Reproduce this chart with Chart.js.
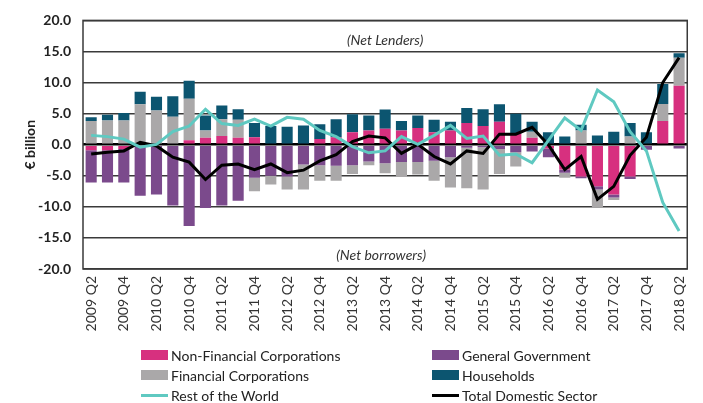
<!DOCTYPE html>
<html>
<head>
<meta charset="utf-8">
<script src="https://cdn.jsdelivr.net/npm/chart.js@4.4.0/dist/chart.umd.min.js"></script>
<style>
  html, body { margin: 0; padding: 0; background: #fff; }
  #wrap { position: relative; width: 703px; height: 403px; font-family: Lato, sans-serif; }
  #chart { position: absolute; left: 0; top: 0; }
  #legend { position: absolute; left: 0; top: 0; width: 703px; height: 403px; pointer-events: none; }
  .item { position: absolute; display: flex; align-items: center; font-size: 14px; color: #222; white-space: nowrap; height: 18px; }
  .swatch { width: 27px; height: 10px; margin-right: 3px; }
  .swatch.line { height: 3px; }
</style>
</head>
<body>
<div id="wrap">
  <canvas id="chart" width="703" height="403"></canvas>
  <div id="legend"></div>
</div>
<script>
const QUARTERS = ['2009 Q2','2009 Q3','2009 Q4','2010 Q1','2010 Q2','2010 Q3','2010 Q4','2011 Q1','2011 Q2','2011 Q3',
  '2011 Q4','2012 Q1','2012 Q2','2012 Q3','2012 Q4','2013 Q1','2013 Q2','2013 Q3','2013 Q4','2014 Q1',
  '2014 Q2','2014 Q3','2014 Q4','2015 Q1','2015 Q2','2015 Q3','2015 Q4','2016 Q1','2016 Q2','2016 Q3',
  '2016 Q4','2017 Q1','2017 Q2','2017 Q3','2017 Q4','2018 Q1','2018 Q2'];

const NFC = [-0.9,-0.9,-0.7,0,0,0,0.7,1.1,1.4,1.1, 1.2,0.2,0,0,0.9,1.2,2.0,2.3,2.55,2.3, 2.7,2.0,2.3,3.5,3.0,3.7,1.8,1.1,-0.6,-4.0, -5.1,-6.7,-8.0,-5.1,0,3.8,9.5];
const GG  = [-5.2,-5.2,-5.4,-8.2,-8.0,-9.8,-13.1,-10.2,-9.8,-9.0, -5.3,-5.0,-5.1,-3.2,-3.3,-3.4,-3.3,-2.7,-3.0,-2.8, -2.8,-2.6,-2.0,-0.5,-0.4,-0.7,-1.2,-1.1,-1.4,-0.5, -0.3,-0.5,-0.5,-0.4,-0.8,0,-0.6];
const FC  = [3.8,3.9,3.9,6.5,5.5,4.5,6.7,1.2,2.7,2.9, -2.2,-1.4,-2.1,-4.0,-2.5,-2.4,-1.4,-0.6,-1.6,-2.4, -2.0,-3.2,-4.9,-6.5,-6.8,-4.0,-2.3,1.0,0,-0.8, 2.3,-2.9,-0.4,1.3,0,2.75,4.5];
const HH  = [0.6,0.9,1.2,2.0,2.2,3.3,2.9,2.4,2.2,1.7, 2.3,2.8,2.9,3.1,2.4,2.9,2.9,2.4,3.1,1.5, 2.0,2.0,1.4,2.4,2.7,2.8,3.2,1.6,2.0,1.3, 0.9,1.5,2.1,2.2,2.0,3.2,0.7];
const ROW = [1.5,1.3,0.9,-0.4,0.05,2.1,3.0,5.7,3.4,3.1, 4.1,3.0,4.4,4.1,2.3,1.3,-0.3,-1.3,-1.0,1.3, 0.05,1.5,3.1,1.0,1.4,-1.7,-1.5,-2.9,0.7,4.3, 2.3,8.8,6.9,2.1,-1.0,-9.3,-13.9];
const TDS = [-1.5,-1.2,-1.0,0.4,-0.2,-2.0,-2.8,-5.6,-3.3,-3.1, -4.0,-3.1,-4.5,-4.1,-2.6,-1.6,0.5,1.4,1.1,-1.4, 0.05,-1.9,-3.1,-1.0,-1.4,1.7,1.7,2.8,-0.05,-4.0, -1.9,-8.8,-6.7,-1.7,1.2,10.0,14.0];

const Y_TICKS = [-20, -15, -10, -5, 0, 5, 10, 15, 20];
const NOTE_TOP = '(Net Lenders)';
const NOTE_BOTTOM = '(Net borrowers)';

const FONT = 'Lato, sans-serif';

//frame round the plot and the two notes
const frame_plugin = {
    id: 'frame',
    afterDatasetsDraw(chart){
        const ctx = chart.ctx;
        const area = chart.chartArea;
        const y = chart.scales.y;
        ctx.save();
        ctx.strokeStyle = '#3a3a3a';
        ctx.lineWidth = 1.5;
        ctx.strokeRect(area.left, area.top, area.right - area.left, area.bottom - area.top);
        ctx.fillStyle = '#333';
        ctx.font = 'italic 14px ' + FONT;
        ctx.textAlign = 'center';
        ctx.textBaseline = 'middle';
        const cx = (area.left + area.right) / 2;
        ctx.fillText(NOTE_TOP, cx, y.getPixelForValue(16.7));
        ctx.fillText(NOTE_BOTTOM, cx - 4, y.getPixelForValue(-17.9));
        ctx.restore();
    }
};

function bar_set(label, data, color){
    return { type: 'bar', label: label, data: data, backgroundColor: color, stack: 'sectors',
             barPercentage: 0.68, categoryPercentage: 1.0, order: 1 };
}

function line_set(label, data, color, stack){
    return { type: 'line', label: label, data: data, borderColor: color, backgroundColor: color,
             borderWidth: 3, pointRadius: 0, tension: 0, stack: stack, order: 0 };
}

const datasets = [
    bar_set('Non-Financial Corporations', NFC, '#d7307f'),
    bar_set('General Government', GG, '#7b4a8c'),
    bar_set('Financial Corporations', FC, '#aaa8a9'),
    bar_set('Households', HH, '#0c5570'),
    line_set('Rest of the World', ROW, '#5fc9c1', 'row'),
    line_set('Total Domestic Sector', TDS, '#000000', 'tds')
];

const chart = new Chart(document.getElementById('chart'), {
    data: { labels: QUARTERS, datasets: datasets },
    options: {
        responsive: false,
        animation: false,
        layout: { padding: { top: 17, right: 8, left: 0, bottom: 0 } },
        plugins: { legend: { display: false }, tooltip: { enabled: false } },
        scales: {
            x: {
                stacked: true,
                grid: { display: false, drawTicks: false },
                border: { display: false },
                ticks: {
                    autoSkip: false, minRotation: 90, maxRotation: 90, padding: 7,
                    color: '#333', font: { family: FONT, size: 14 },
                    callback: function(value, index){ return index % 2 === 0 ? this.getLabelForValue(value) : ''; }
                },
                afterFit(scale){ scale.height = 134; }
            },
            y: {
                stacked: true,
                min: -20, max: 20,
                afterBuildTicks(scale){ scale.ticks = Y_TICKS.map(v => ({ value: v })); },
                grid: {
                    drawTicks: false,
                    color: (c) => c.tick && c.tick.value === 0 ? '#000' : '#3a3a3a',
                    lineWidth: (c) => c.tick && c.tick.value === 0 ? 2.5 : 1.5
                },
                border: { display: false },
                ticks: {
                    padding: 12, color: '#222',
                    font: { family: FONT, size: 14, weight: 'bold' },
                    callback: (v) => Number(v).toFixed(1)
                },
                title: {
                    display: true, text: '€ billion', color: '#222',
                    font: { family: FONT, size: 14, weight: 'bold' },
                    padding: { top: 22, bottom: 0 }
                },
                afterFit(scale){ scale.width = 83; }
            }
        }
    },
    plugins: [frame_plugin]
});

//legend in two columns under the chart
function build_legend(){
    const legend = document.getElementById('legend');
    const cols = [141, 432];
    const rows = [355, 375, 395];
    chart.data.datasets.forEach((ds, i) => {
        const item = document.createElement('div');
        item.className = 'item';
        item.style.left = cols[i % 2] + 'px';
        item.style.top = (rows[Math.floor(i / 2)] - 9) + 'px';
        const sw = document.createElement('span');
        sw.className = 'swatch' + (ds.type === 'line' ? ' line' : '');
        sw.style.background = ds.type === 'line' ? ds.borderColor : ds.backgroundColor;
        const txt = document.createElement('span');
        txt.textContent = ds.label;
        item.append(sw, txt);
        legend.append(item);
    });
}
build_legend();
</script>
</body>
</html>
